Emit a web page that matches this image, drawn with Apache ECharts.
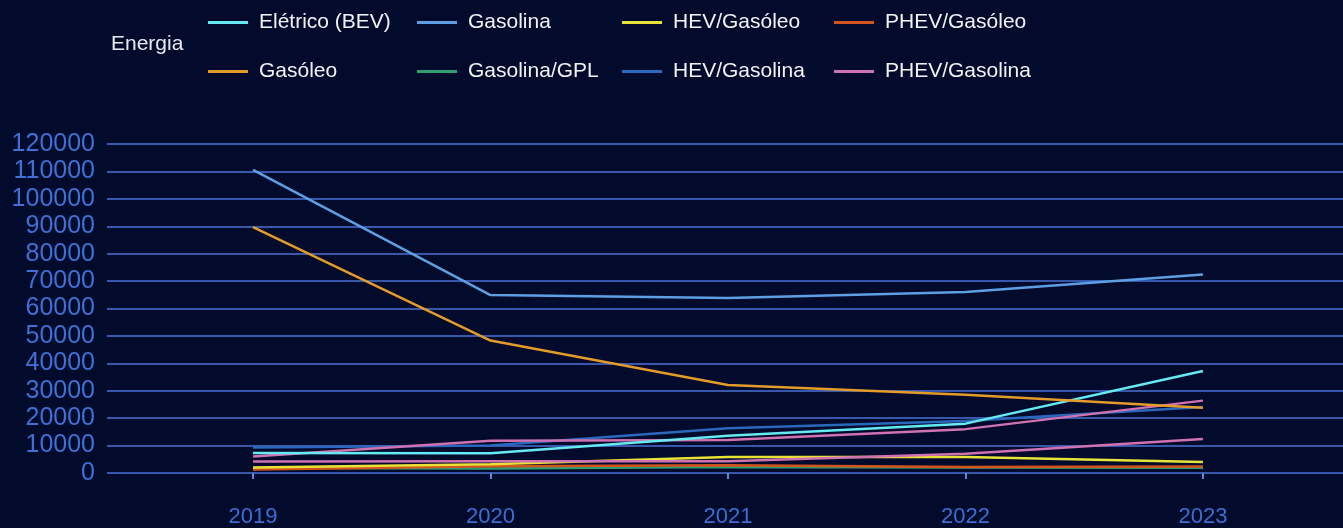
<!DOCTYPE html>
<html>
<head>
<meta charset="utf-8">
<script src="https://cdn.jsdelivr.net/npm/echarts@6/dist/echarts.min.js"></script>
<style>
  html, body { margin: 0; padding: 0; background: #020b2c; }
  #chart { width: 1343px; height: 528px; }
</style>
</head>
<body>
<div id="chart"></div>
<script>
// ---- data ----
const years = [2019, 2020, 2021, 2022, 2023];
const yTicks = [0, 10000, 20000, 30000, 40000, 50000, 60000, 70000, 80000, 90000, 100000, 110000, 120000];

const eletricoBEV   = [7300, 7200, 13600, 18000, 37200];
const gasolina      = [110600, 64900, 63800, 66000, 72400];
const hevGasoleo    = [2000, 3200, 5800, 5800, 4000];
const phevGasoleo   = [1300, 2500, 2800, 2200, 2400];
const gasoleo       = [89700, 48300, 32100, 28500, 23800];
const gasolinaGPL   = [1800, 1600, 2200, 2000, 1900];
const hevGasolina   = [9300, 10000, 16300, 19000, 24100];
const phevGasolina  = [6000, 11800, 12000, 16000, 26400];
const phevGasolinaB = [4200, 4300, 4300, 7000, 12400];

const legendTitle = 'Energia';
const legendRow1 = ['Elétrico (BEV)', 'Gasolina', 'HEV/Gasóleo', 'PHEV/Gasóleo'];
const legendRow2 = ['Gasóleo', 'Gasolina/GPL', 'HEV/Gasolina', 'PHEV/Gasolina'];

// ---- styling ----
const colors = {
  'Elétrico (BEV)': '#66eaf2',
  'Gasolina': '#5d9fe2',
  'HEV/Gasóleo': '#e9e236',
  'PHEV/Gasóleo': '#d5531c',
  'Gasóleo': '#e39b2a',
  'Gasolina/GPL': '#2f9f72',
  'HEV/Gasolina': '#2b68bb',
  'PHEV/Gasolina': '#d072b2'
};

const seriesDefs = [
  ['Gasolina/GPL', gasolinaGPL],
  ['PHEV/Gasóleo', phevGasoleo],
  ['HEV/Gasóleo', hevGasoleo],
  ['PHEV/Gasolina', phevGasolinaB],
  ['HEV/Gasolina', hevGasolina],
  ['PHEV/Gasolina', phevGasolina],
  ['Elétrico (BEV)', eletricoBEV],
  ['Gasóleo', gasoleo],
  ['Gasolina', gasolina]
];

const series = seriesDefs.map(([name, vals]) => ({
  name: name,
  type: 'line',
  data: years.map((y, i) => [y, vals[i]]),
  showSymbol: false,
  symbol: 'none',
  lineStyle: { width: 2.5, color: colors[name] },
  itemStyle: { color: colors[name] },
  emphasis: { disabled: true },
  animation: false
}));

const colLeft = [208, 417, 622, 834];
const rowTop = [12, 61];
const legends = [];
[legendRow1, legendRow2].forEach((row, r) => {
  row.forEach((name, c) => {
    legends.push({
      data: [{ name: name, icon: 'rect' }],
      left: colLeft[c],
      top: rowTop[r],
      itemWidth: 40,
      itemHeight: 3,
      padding: 0,
      selectedMode: false,
      textStyle: { color: '#f2f2f6', fontSize: 21, fontFamily: 'Liberation Sans', padding: [0, 0, 0, 6] }
    });
  });
});

const chart = echarts.init(document.getElementById('chart'), null, { renderer: 'canvas' });
chart.setOption({
  backgroundColor: '#020b2c',
  animation: false,
  title: {
    text: legendTitle,
    left: 111,
    top: 34,
    padding: 0,
    textStyle: { color: '#e6e8f0', fontSize: 21, fontWeight: 'normal', fontFamily: 'Liberation Sans' }
  },
  legend: legends,
  grid: { left: 107, right: 0, top: 144, bottom: 51, containLabel: false },
  xAxis: {
    type: 'value',
    min: 2018.385,
    max: 2023.59,
    offset: 15,
    axisLine: { show: false },
    splitLine: { show: false },
    axisTick: { show: true, customValues: years, length: 6, lineStyle: { color: '#5f86da', width: 2 } },
    axisLabel: {
      customValues: years,
      formatter: v => String(v),
      color: '#3c6fd4',
      fontSize: 22,
      fontFamily: 'Liberation Sans',
      margin: 18
    }
  },
  yAxis: {
    type: 'value',
    min: 0,
    max: 120000,
    interval: 10000,
    axisLine: { show: false },
    axisTick: { show: false },
    axisLabel: {
      customValues: yTicks,
      formatter: v => String(v),
      color: '#3f70d6',
      fontSize: 25,
      fontFamily: 'Liberation Sans',
      margin: 12
    },
    splitLine: { show: true, lineStyle: { color: '#3758aa', width: 2 } }
  },
  series: series
});
</script>
</body>
</html>
